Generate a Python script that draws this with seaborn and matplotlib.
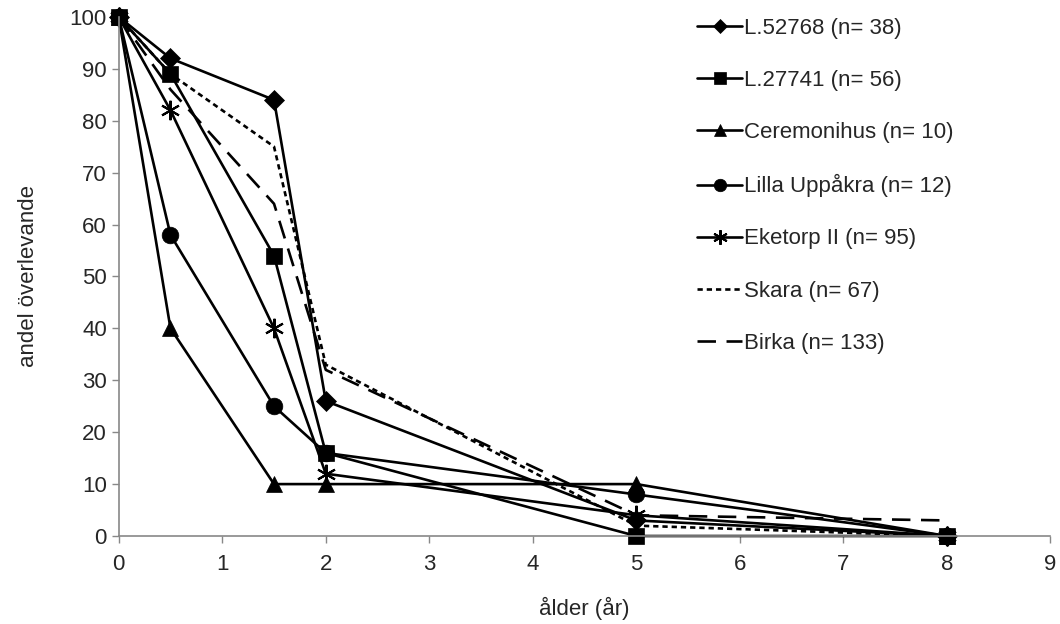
import pandas as pd
import numpy as np
import matplotlib.pyplot as plt
import seaborn as sns

# Ålder (år) och andel överlevande per material
alder = [0, 0.5, 1.5, 2, 5, 8]

serier = ['L.52768 (n= 38)', 'L.27741 (n= 56)', 'Ceremonihus (n= 10)',
          'Lilla Uppåkra (n= 12)', 'Eketorp II (n= 95)', 'Skara (n= 67)',
          'Birka (n= 133)']
l52768 = [100, 92, 84, 26, 3, 0]
l27741 = [100, 89, 54, 16, 0, 0]
ceremonihus = [100, 40, 10, 10, 10, 0]
lilla_uppakra = [100, 58, 25, 16, 8, 0]
eketorp = [100, 82, 40, 12, 4, 0]
skara = [100, 89, 75, 33, 2, 0]
birka = [100, 86, 64, 32, 4, 3]

varden = [l52768, l27741, ceremonihus, lilla_uppakra, eketorp, skara, birka]

rows = []
for namn, v in zip(serier, varden):
    for a, y in zip(alder, v):
        rows.append({'alder': a, 'andel': y, 'serie': namn})
df = pd.DataFrame(rows)

sns.set_style('white')
plt.rcParams['font.family'] = ['Liberation Sans', 'DejaVu Sans']

stil = {
    serier[0]: dict(marker='D', ms=10, ls='-'),
    serier[1]: dict(marker='s', ms=12, ls='-'),
    serier[2]: dict(marker='^', ms=12, ls='-'),
    serier[3]: dict(marker='o', ms=12, ls='-'),
    serier[4]: dict(marker=(6, 2, 0), ms=14, ls='-'),
    serier[5]: dict(marker=None, ms=0, ls=(0, (2, 1.5))),
    serier[6]: dict(marker=None, ms=0, ls=(0, (7, 4))),
}

fig = plt.figure(figsize=(10.6, 6.24), dpi=100)
ax = fig.add_axes([0.112, 0.141, 0.879, 0.832])

for namn in serier:
    s = stil[namn]
    sns.lineplot(data=df[df['serie'] == namn], x='alder', y='andel', ax=ax,
                 color='black', linewidth=1.9, linestyle=s['ls'],
                 marker=s['marker'], markersize=s['ms'],
                 markeredgewidth=1.5 if namn == serier[4] else 0.5,
                 markeredgecolor='black', markerfacecolor='black',
                 label=namn, errorbar=None)

ax.set_xlim(0, 9)
ax.set_ylim(0, 100)
ax.set_xticks(range(0, 10))
ax.set_yticks(range(0, 101, 10))
ax.set_xlabel('ålder (år)', fontsize=16, labelpad=16)
ax.set_ylabel('andel överlevande', fontsize=16, labelpad=22)
ax.tick_params(axis='both', labelsize=16, direction='out', length=5,
               color='#888888', width=1, bottom=True, left=True)
ax.tick_params(axis='x', pad=8)

for side in ['top', 'right']:
    ax.spines[side].set_visible(False)
for side in ['left', 'bottom']:
    ax.spines[side].set_color('#888888')
    ax.spines[side].set_linewidth(1.2)
for line in ax.lines:
    line.set_clip_on(False)

leg = ax.legend(loc='upper left', bbox_to_anchor=(0.621, 0.998), frameon=False,
                fontsize=16, handlelength=2.0, labelspacing=1.4,
                handletextpad=0.1, borderaxespad=0, borderpad=0,
                markerscale=0.75)

fig.savefig('out.png', dpi=100, facecolor='white')
